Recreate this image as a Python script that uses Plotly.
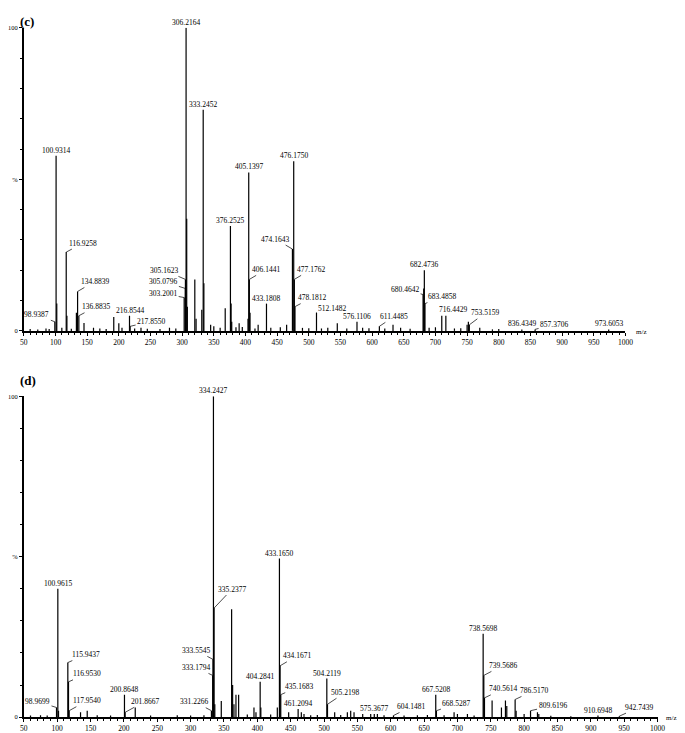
import plotly.graph_objects as go

# The page body adds an 8 px offset, so the figure is sized to the visible area.
OFF = 8
W, H = 685 - OFF, 733 - OFF

# ---------------- Panel (c) data ----------------
c_label_mz = [98.9387, 100.9314, 116.9258, 134.8839, 136.8835, 216.8544, 217.8550,
              303.2001, 305.0796, 305.1623, 306.2164, 333.2452, 376.2525, 405.1397,
              406.1441, 433.1808, 474.1643, 476.1750, 477.1762, 478.1812, 512.1482,
              576.1106, 611.4485, 680.4642, 682.4736, 683.4858, 716.4429, 753.5159,
              836.4349, 857.3706, 973.6053]
c_label_int = [3, 57.8, 26, 13, 5, 5, 1.5,
               11, 14, 17, 100, 73, 34.6, 52.3,
               17, 9, 27, 56, 17, 8, 6,
               3, 1.5, 12, 20, 9, 5, 2,
               0.5, 0.5, 0.5]
c_other_mz = [102, 118, 133, 145, 192, 200, 235, 307.2, 308.2, 320, 322, 331, 334.3,
              345, 368, 377.3, 378.3, 390, 404, 407.2, 420, 465, 545, 633, 681.5,
              710, 750, 752, 770, 790,
              60, 72, 85, 90, 110, 125, 160, 170, 180, 205, 225, 245, 265, 280, 290,
              350, 360, 385, 395, 415, 440, 455, 490, 500, 520, 530, 560, 585, 595,
              620, 645, 660, 690, 700, 730, 740, 800]
c_other_int = [9, 5, 6, 2.6, 4.6, 2.5, 1, 37, 8, 17, 4, 7, 15.7,
               2, 7.5, 9, 3, 2.5, 4, 6, 2, 2, 2.5, 2, 14,
               5, 2, 3, 1, 0.5,
               0.6, 0.5, 0.8, 0.6, 1, 0.7, 1, 0.8, 0.6, 1, 0.8, 0.7, 0.6, 1, 0.8,
               1.5, 1, 1.2, 1.3, 0.8, 1, 1.2, 1, 0.9, 0.8, 1, 0.8, 1, 0.9,
               0.8, 1, 0.7, 1, 1.2, 0.8, 0.9, 0.6]

# ---------------- Panel (d) data ----------------
d_label_mz = [98.9699, 100.9615, 115.9437, 116.9530, 117.9540, 200.8648, 201.8667,
              331.2266, 333.1794, 333.5545, 334.2427, 335.2377, 404.2841, 433.1650,
              434.1671, 435.1683, 461.2094, 504.2119, 505.2198, 575.3677, 604.1481,
              667.5208, 668.5287, 738.5698, 739.5686, 740.5614, 786.5170, 809.6196,
              910.6948, 942.7439]
d_label_int = [3, 40, 17, 11, 2, 7, 1.5,
               2, 13, 18, 100, 34, 11, 49.4,
               16, 7, 2.5, 12, 4, 1, 0.5,
               7, 2, 26, 13, 6, 5.5, 2,
               0.5, 0.3]
d_other_mz = [102, 135, 145, 217, 336.3, 346, 361.5, 363, 365, 368, 372, 395, 398, 405.3,
              430, 447, 466, 470, 516, 535, 540, 545, 558, 570, 580,
              695, 700, 715, 752, 766, 772, 774, 788, 800, 820, 822,
              60, 75, 85, 160, 180, 240, 280, 300, 320, 385, 420, 480, 490, 525,
              590, 620, 640, 655, 680, 725, 840, 870]
d_other_int = [2, 1.5, 2, 3, 4, 5, 33.6, 10, 4, 7, 7, 3, 1.5, 3,
               3, 1.5, 1.5, 1, 1.5, 1.5, 2, 1.5, 1, 1, 1,
               1.5, 1, 1, 5.2, 3, 5.2, 3.5, 2, 1, 1.5, 1,
               0.5, 0.6, 0.5, 0.6, 0.5, 0.5, 0.6, 0.5, 0.6, 0.8, 0.8, 0.6, 0.7, 0.7,
               0.6, 0.5, 0.6, 0.7, 0.6, 0.5, 0.4, 0.3]

x_ticks = list(range(50, 1001, 50))

# label offsets (pixels, relative to peak top) for labels joined by a leader line
c_leader = {
    "98.9387": (-18, -7), "116.9258": (17, -9), "134.8839": (17, -10),
    "136.8835": (17, -9), "217.8550": (21, -5), "303.2001": (-21, -4),
    "305.0796": (-22, -7), "305.1623": (-21, -9), "406.1441": (17, -10),
    "474.1643": (-17, -10), "477.1762": (17, -10), "478.1812": (17, -9),
    "512.1482": (16, -4), "611.4485": (15, -10), "680.4642": (-18, -5),
    "683.4858": (17, -7), "716.4429": (7, -6), "753.5159": (16, -12),
    "857.3706": (19, -5),
}
d_leader = {
    "98.9699": (-19, -6), "115.9437": (18, -8), "116.9530": (18, -8),
    "117.9540": (18, -10), "201.8667": (20, -11), "331.2266": (-17, -9),
    "333.1794": (-17, -8), "333.5545": (-17, -9), "335.2377": (18, -19),
    "434.1671": (17, -10), "435.1683": (18, -8), "505.2198": (18, -12),
    "604.1481": (18, -9), "668.5287": (20, -7), "739.5686": (19, -10),
    "740.5614": (19, -9), "786.5170": (19, -9), "809.6196": (22, -5),
    "942.7439": (20, -9),
}

FONT = "Liberation Serif"


def sticks(mzs, ints):
    xs, ys = [], []
    for m, h in zip(mzs, ints):
        xs += [m, m, None]
        ys += [0, h, None]
    return xs, ys


fig = go.Figure()

for (lm, li, om, oi, xa, ya) in [
    (c_label_mz, c_label_int, c_other_mz, c_other_int, "x", "y"),
    (d_label_mz, d_label_int, d_other_mz, d_other_int, "x2", "y2"),
]:
    xs, ys = sticks(list(lm) + list(om), list(li) + list(oi))
    fig.add_trace(go.Scatter(x=xs, y=ys, mode="lines",
                             line=dict(color="black", width=1.2),
                             xaxis=xa, yaxis=ya, showlegend=False,
                             hoverinfo="skip"))

annotations = []
for (lm, li, leaders, xa, ya) in [
    (c_label_mz, c_label_int, c_leader, "x", "y"),
    (d_label_mz, d_label_int, d_leader, "x2", "y2"),
]:
    for m, h in zip(lm, li):
        txt = f"{m:.4f}"
        if txt in leaders:
            ax, ay = leaders[txt]
            annotations.append(dict(x=m, y=h, xref=xa, yref=ya, text=txt,
                                    showarrow=True, arrowhead=0, arrowwidth=0.7,
                                    arrowcolor="black", ax=ax, ay=ay, standoff=0,
                                    font=dict(family=FONT, size=7.5, color="black")))
        else:
            annotations.append(dict(x=m, y=h, xref=xa, yref=ya, text=txt,
                                    showarrow=False, yanchor="bottom", yshift=-1,
                                    font=dict(family=FONT, size=7.5, color="black")))


def px(x):
    return (x - OFF) / W


def py(y):
    return 1 - (y - OFF) / H


annotations += [
    dict(x=0, y=1, xref="paper", yref="paper", text="<b>(c)</b>",
         showarrow=False, xanchor="left", yanchor="top",
         font=dict(family=FONT, size=13, color="black")),
    dict(x=0, y=py(380), xref="paper", yref="paper", text="<b>(d)</b>",
         showarrow=False, xanchor="left", yanchor="middle",
         font=dict(family=FONT, size=13, color="black")),
    dict(x=px(641), y=py(331), xref="paper", yref="paper", text="m/z",
         showarrow=False, xanchor="left", yanchor="middle",
         font=dict(family=FONT, size=7, color="black")),
    dict(x=px(672), y=py(721), xref="paper", yref="paper", text="m/z",
         showarrow=False, xanchor="left", yanchor="middle",
         font=dict(family=FONT, size=7, color="black")),
]

xaxis_common = dict(range=[50, 1000], tickvals=x_ticks, ticks="outside", ticklen=3,
                    tickwidth=1, tickcolor="black", showline=True, linecolor="black",
                    linewidth=1.5, showgrid=False, zeroline=False,
                    tickfont=dict(family=FONT, size=7.5, color="black"),
                    minor=dict(dtick=10, ticks="outside", ticklen=2, tickcolor="black",
                               showgrid=False),
                    fixedrange=True)
yaxis_common = dict(range=[0, 100], tickvals=[0, 50, 100], ticktext=["0", "%", "100"],
                    ticks="outside", ticklen=3, tickwidth=1, tickcolor="black",
                    showline=True, linecolor="black", linewidth=1.5, showgrid=False,
                    zeroline=False, tickfont=dict(family=FONT, size=6.5, color="black"),
                    minor=dict(dtick=10, ticks="outside", ticklen=2, tickcolor="black",
                               showgrid=False),
                    fixedrange=True)

fig.update_layout(
    width=W, height=H,
    margin=dict(l=0, r=0, t=0, b=0),
    paper_bgcolor="white", plot_bgcolor="white",
    xaxis=dict(domain=[px(14), px(632)], anchor="y", **xaxis_common),
    yaxis=dict(domain=[py(330), py(24)], anchor="x", **yaxis_common),
    xaxis2=dict(domain=[px(14), px(665)], anchor="y2", **xaxis_common),
    yaxis2=dict(domain=[py(720), py(396)], anchor="x2", **yaxis_common),
    annotations=annotations,
)

fig.write_html("out.html")
